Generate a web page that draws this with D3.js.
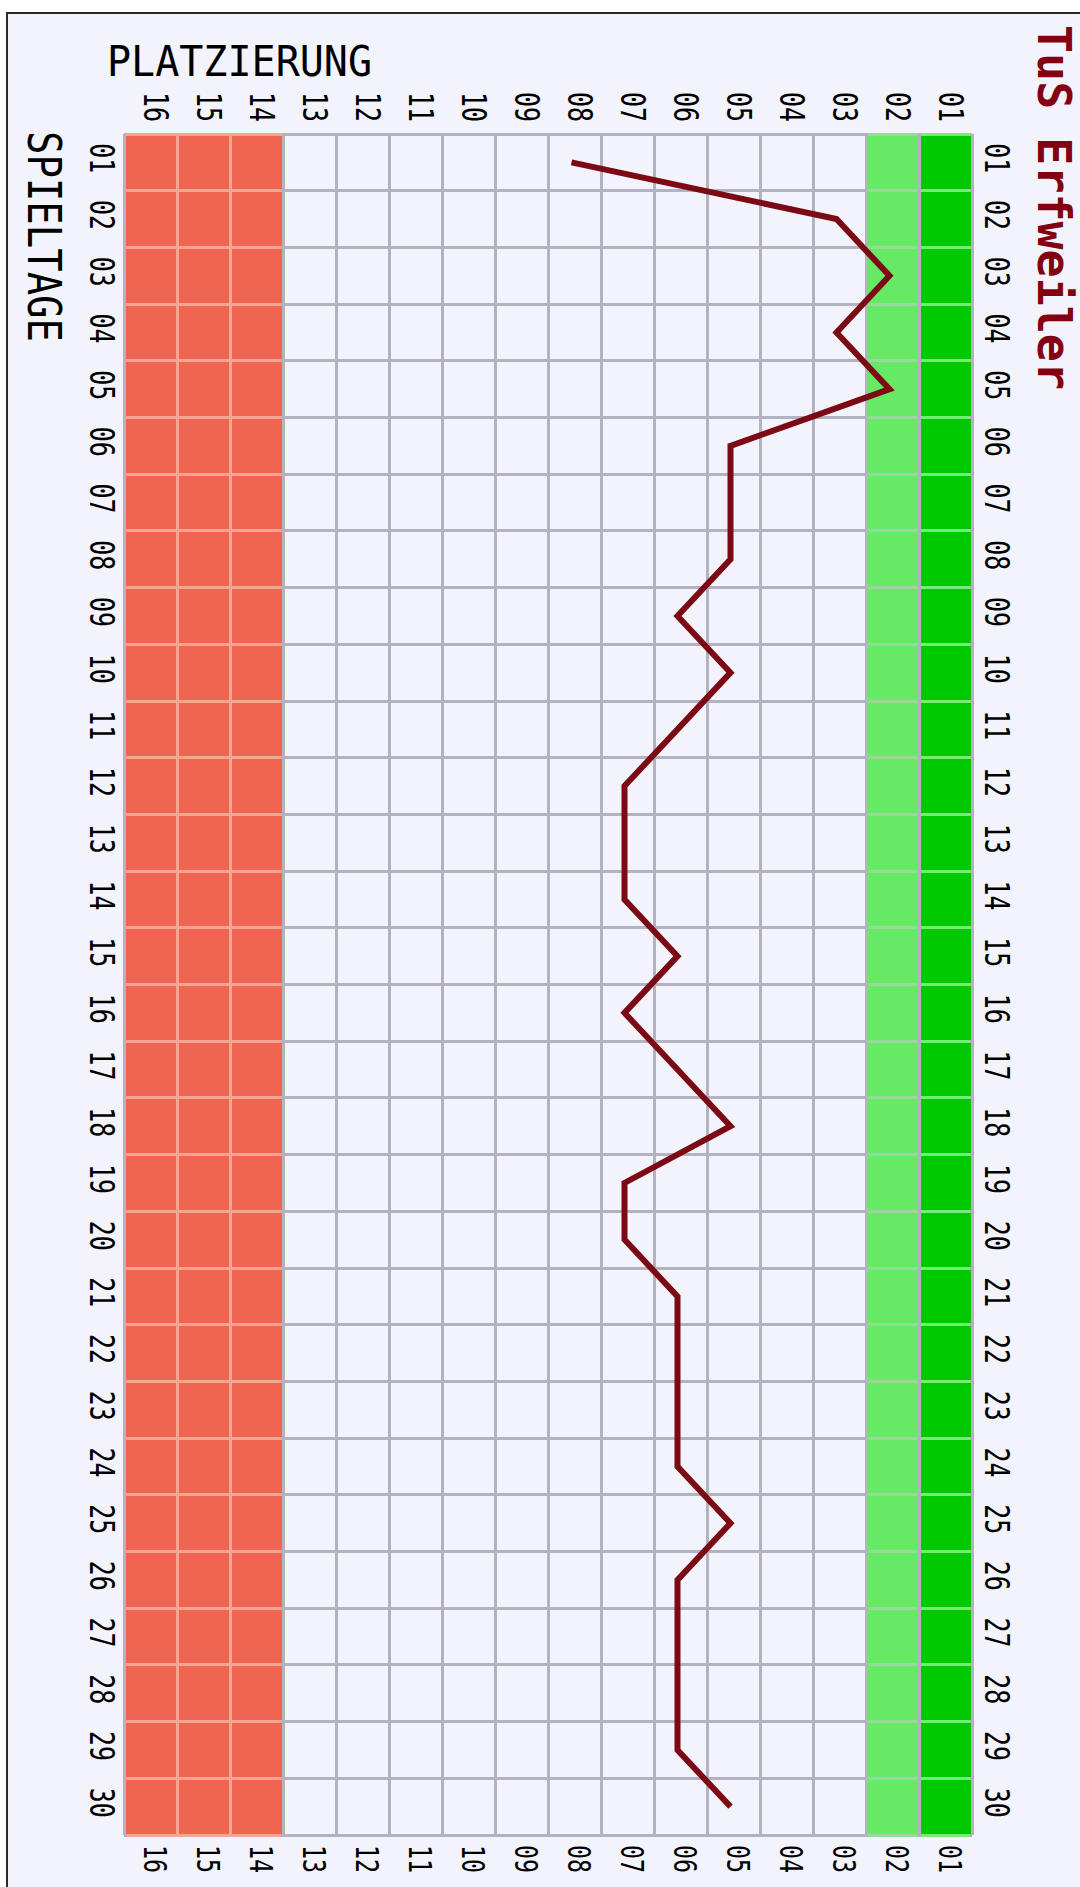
<!DOCTYPE html>
<html>
<head>
<meta charset="utf-8">
<script src="https://cdn.jsdelivr.net/npm/d3@7.9.0/dist/d3.min.js"></script>
<style>
  html, body { margin: 0; padding: 0; background: #fff; }
  svg { display: block; }
  text { font-family: 'DejaVu Sans Mono', 'Liberation Mono', monospace; fill: #000; }
</style>
</head>
<body>
<svg id="chart" width="1080" height="1887"></svg>
<script>
const teamName = 'TuS Erfweiler';
const rankTitle = 'PLATZIERUNG';
const dayTitle = 'SPIELTAGE';

// columns, left to right
const rankLabels = ['16', '15', '14', '13', '12', '11', '10', '09',
                    '08', '07', '06', '05', '04', '03', '02', '01'];
// rows, top to bottom
const dayLabels = ['01', '02', '03', '04', '05', '06', '07', '08', '09', '10',
                   '11', '12', '13', '14', '15', '16', '17', '18', '19', '20',
                   '21', '22', '23', '24', '25', '26', '27', '28', '29', '30'];
// placement after each matchday
const placements = [8, 3, 2, 3, 2, 5, 5, 5, 6, 5, 6, 7, 7, 7, 6,
                    7, 6, 5, 7, 7, 6, 6, 6, 6, 5, 6, 6, 6, 6, 5];

const relegationRanks = ['16', '15', '14'];
const secondRanks = ['02'];
const firstRanks = ['01'];

const svg = d3.select('#chart');
const fmt = d3.format('02d');

let x = d3.scaleBand().domain(rankLabels).range([124, 972]);
let y = d3.scaleBand().domain(dayLabels).range([134, 1835]);
let bw = x.bandwidth();
let bh = y.bandwidth();
let [plotLeft, plotRight] = x.range();
let [plotTop, plotBottom] = y.range();

// frame
svg.append('rect')
   .attr('x', 7).attr('y', 13)
   .attr('width', 1100).attr('height', 1900)
   .attr('fill', '#f3f3fb')
   .attr('stroke', '#2a2a2a')
   .attr('stroke-width', 2);

// coloured zones
const zones = [
    { ranks: relegationRanks, fill: '#ef6552', grid: '#f6a593' },
    { ranks: secondRanks, fill: '#66ea66', grid: '#98d898' },
    { ranks: firstRanks, fill: '#00c800', grid: '#72ef72' },
];

zones.forEach((z) => {
    svg.append('g').selectAll('rect')
       .data(z.ranks)
       .join('rect')
       .attr('x', (d) => x(d))
       .attr('y', plotTop)
       .attr('width', bw)
       .attr('height', plotBottom - plotTop)
       .attr('fill', z.fill);
});

// grey grid
let grid = svg.append('g')
              .attr('stroke', '#b2b2c1')
              .attr('stroke-width', 3)
              .attr('shape-rendering', 'crispEdges');

grid.selectAll('.v')
    .data([...rankLabels.map((d) => x(d)), plotRight])
    .join('line')
    .attr('class', 'v')
    .attr('x1', (d) => d).attr('x2', (d) => d)
    .attr('y1', plotTop).attr('y2', plotBottom);

grid.selectAll('.h')
    .data([...dayLabels.map((d) => y(d)), plotBottom])
    .join('line')
    .attr('class', 'h')
    .attr('x1', plotLeft).attr('x2', plotRight)
    .attr('y1', (d) => d).attr('y2', (d) => d);

// lighter grid inside the zones
zones.forEach((z) => {
    let g = svg.append('g')
               .attr('stroke', z.grid)
               .attr('stroke-width', 3)
               .attr('shape-rendering', 'crispEdges');
    let x0 = d3.min(z.ranks, (d) => x(d));
    let x1 = d3.max(z.ranks, (d) => x(d)) + bw;
    g.selectAll('.h')
     .data([...dayLabels.map((d) => y(d)), plotBottom])
     .join('line')
     .attr('class', 'h')
     .attr('x1', x0 + 2).attr('x2', x1 - 2)
     .attr('y1', (d) => d).attr('y2', (d) => d);
    g.selectAll('.v')
     .data(z.ranks.filter((d) => x(d) > x0))
     .join('line')
     .attr('class', 'v')
     .attr('x1', (d) => x(d)).attr('x2', (d) => x(d))
     .attr('y1', plotTop).attr('y2', plotBottom);
});

// placement line
let line = d3.line()
    .x((d) => x(fmt(d)) + bw / 2 - 3)
    .y((d, i) => y(dayLabels[i]) + bh / 2);

svg.append('path')
   .attr('d', line(placements))
   .attr('fill', 'none')
   .attr('stroke', '#7c0a15')
   .attr('stroke-width', 6)
   .attr('stroke-linejoin', 'miter');

// rotated labels, reading top to bottom
function vText(sel, tx, ty, size, len, anchor) {
    sel.attr('transform', (d) => `translate(${tx(d)},${ty(d)}) rotate(90)`)
       .attr('text-anchor', anchor)
       .attr('font-size', size)
       .attr('textLength', len)
       .attr('lengthAdjust', 'spacingAndGlyphs')
       .text((d) => d);
}

svg.append('g').selectAll('text')
   .data(rankLabels).join('text')
   .call(vText, (d) => x(d) + bw / 2 - 7, () => 107, 34, 30, 'middle');

svg.append('g').selectAll('text')
   .data(rankLabels).join('text')
   .call(vText, (d) => x(d) + bw / 2 - 7, () => 1859, 32, 28, 'middle');

svg.append('g').selectAll('text')
   .data(dayLabels).join('text')
   .call(vText, () => 90, (d) => y(d) + bh / 2 - 4, 34, 30, 'middle');

svg.append('g').selectAll('text')
   .data(dayLabels).join('text')
   .call(vText, () => 985, (d) => y(d) + bh / 2 - 4, 34, 30, 'middle');

// titles
svg.append('text')
   .attr('x', 107).attr('y', 76)
   .attr('font-size', 42)
   .attr('textLength', 265)
   .attr('lengthAdjust', 'spacingAndGlyphs')
   .text(rankTitle);

svg.append('g').selectAll('text')
   .data([dayTitle]).join('text')
   .call(vText, () => 28, () => 131, 46, 211, 'start');

svg.append('g').selectAll('text')
   .data([teamName]).join('text')
   .call(vText, () => 1038, () => 25, 46, 365, 'start')
   .attr('font-weight', 'bold')
   .style('fill', '#830013');
</script>
</body>
</html>
